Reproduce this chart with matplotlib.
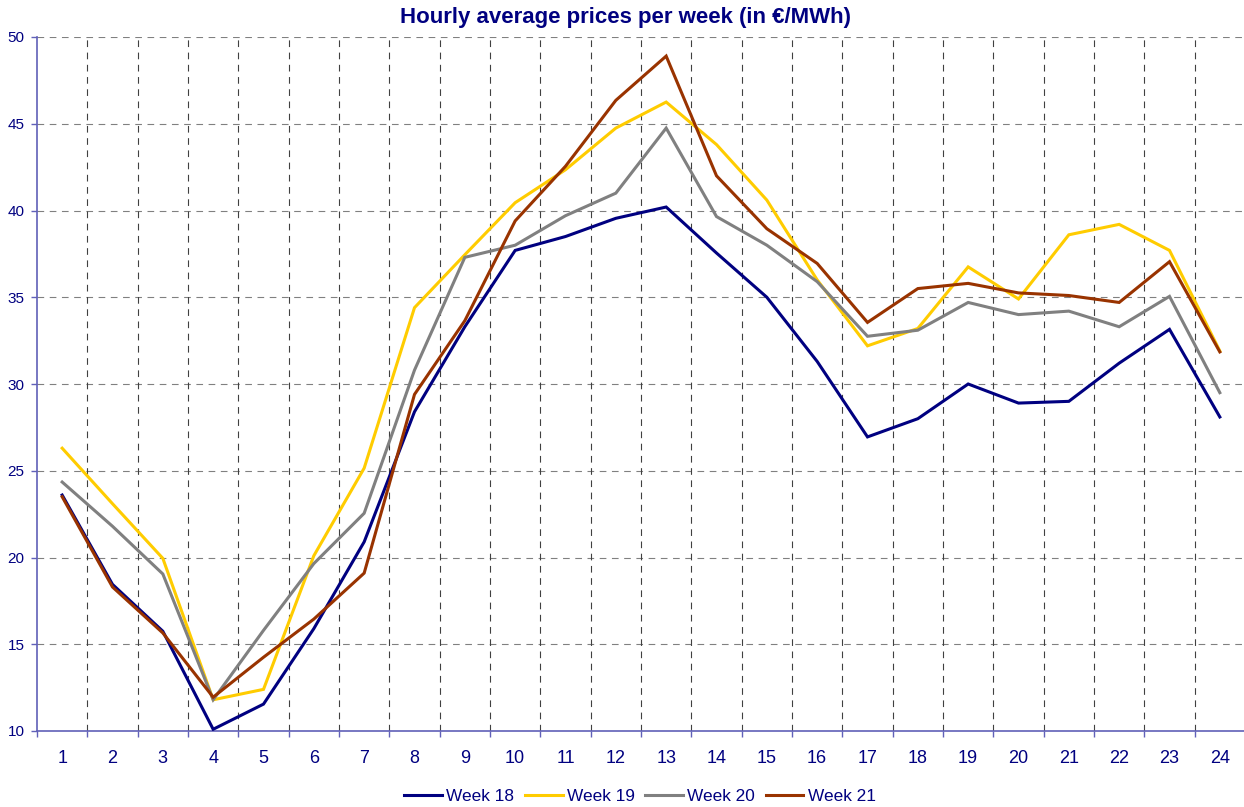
import matplotlib
matplotlib.use("Agg")
import matplotlib.pyplot as plt
import numpy as np

plt.rcParams['font.family'] = ['Liberation Sans', 'DejaVu Sans']

hours = list(range(1, 25))
hour_labels = [str(h) for h in hours]
series_names = ["Week 18", "Week 19", "Week 20", "Week 21"]
week18 = [23.6, 18.45, 15.75, 10.1, 11.55, 15.9, 20.9, 28.4, 33.3, 37.7, 38.5, 39.55,
          40.2, 37.55, 35.0, 31.3, 26.95, 28.0, 30.0, 28.9, 29.0, 31.2, 33.15, 28.1]
week19 = [26.3, 23.1, 19.95, 11.8, 12.4, 20.1, 25.15, 34.4, 37.45, 40.45, 42.35, 44.75,
          46.25, 43.8, 40.6, 36.0, 32.2, 33.2, 36.75, 34.9, 38.6, 39.2, 37.7, 31.9]
week20 = [24.35, 21.8, 19.05, 11.8, 15.8, 19.65, 22.55, 30.8, 37.3, 38.0, 39.7, 41.0,
          44.75, 39.65, 38.0, 35.9, 32.75, 33.1, 34.7, 34.0, 34.2, 33.3, 35.05, 29.5]
week21 = [23.5, 18.3, 15.65, 11.95, 14.25, 16.45, 19.1, 29.4, 33.65, 39.4, 42.55, 46.35,
          48.9, 42.0, 38.95, 36.95, 33.55, 35.5, 35.8, 35.25, 35.1, 34.7, 37.05, 31.85]
colors = ['#000080', '#FFCC00', '#808080', '#993300']

navy = '#000080'
axis_col = '#6060b8'

fig = plt.figure(figsize=(12.44, 8.07), dpi=100)
ax = fig.add_axes([37/1244, 1-731/807, (1245-37)/1244, (731-37)/807])

for name, vals, c in zip(series_names, [week18, week19, week20, week21], colors):
    ax.plot(hours, vals, color=c, lw=2.2, label=name, solid_joinstyle='miter', zorder=3)

ax.set_xlim(0.5, 24.5)
ax.set_ylim(10, 50)
ax.set_yticks(np.arange(10, 51, 5))
ax.set_xticks(hours)
ax.set_xticklabels(hour_labels)
ax.set_xticks(np.arange(0.5, 24.6, 1), minor=True)

for y in range(15, 51, 5):
    ax.axhline(y, color='#808080', lw=0.8, ls=(0, (6, 5)), zorder=1)
for x in np.arange(1.5, 24.5, 1):
    ax.axvline(x, color='#404040', lw=0.8, ls=(0, (6, 5)), zorder=1)

for s in ['top', 'right']:
    ax.spines[s].set_visible(False)
for s in ['left', 'bottom']:
    ax.spines[s].set_color(axis_col)
    ax.spines[s].set_linewidth(1.2)

ax.tick_params(axis='x', which='major', length=0, pad=14, labelsize=13, labelcolor=navy)
ax.tick_params(axis='x', which='minor', length=4, width=1, color=axis_col, direction='out')
ax.tick_params(axis='y', which='major', length=4, width=1, color=axis_col, pad=5,
               labelsize=11, labelcolor=navy)

fig.text(625.5/1244, 1-17.5/807, "Hourly average prices per week (in €/MWh)", ha='center', va='center',
         fontsize=16, fontweight='bold', color=navy)

leg = fig.legend(loc='center', bbox_to_anchor=(640/1244, 1-796/807), ncol=4, frameon=False,
                 fontsize=12.4, handlelength=2.2, handletextpad=0.25, columnspacing=0.6)
for t in leg.get_texts():
    t.set_color(navy)

fig.savefig('out.png', dpi=100)
